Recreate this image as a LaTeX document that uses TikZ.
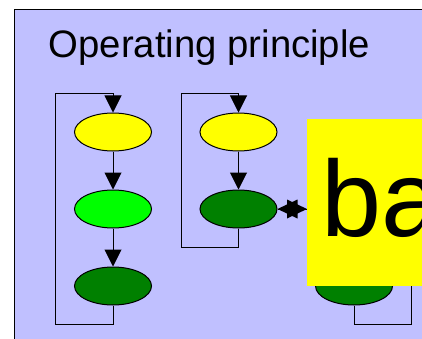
\documentclass[tikz,border=0pt]{standalone}
\usepackage{fontspec}
\setmainfont{Liberation Sans}
\usetikzlibrary{shapes.geometric,arrows.meta}
\definecolor{lav}{HTML}{C0C0FF}
\definecolor{yel}{HTML}{FFFF00}
\definecolor{lime}{HTML}{00FF00}
\definecolor{dkg}{HTML}{008000}
\tikzset{
  oval/.style={ellipse, draw=black, line width=1pt, minimum width=77pt, minimum height=38pt, inner sep=0pt},
  link/.style={draw=black, line width=1pt},
  arr/.style={link, -{Triangle[length=17pt,width=17pt]}},
  headfill/.style={fill=black},
}
\begin{document}
\begin{tikzpicture}[x=1pt,y=-1pt]
\useasboundingbox (0,0) rectangle (422,339);
\clip (0,0) rectangle (422,339);
\fill[white] (0,0) rectangle (422,339);
\draw[fill=lav, line width=1pt] (14,9.5) rectangle (450,370);
\node[anchor=base west, inner sep=0pt, font=\fontsize{38.3}{40}\selectfont] (title) at (48.5,58) {Operating principle};
% column 1
\node[oval, fill=yel] (y1) at (113,132) {};
\node[oval, fill=lime] (g1) at (113,209) {};
\node[oval, fill=dkg] (d1) at (113,286) {};
% column 2
\node[oval, fill=yel] (y2) at (238.5,132) {};
\node[oval, fill=dkg] (d2) at (238.5,209) {};
% column 3 (mostly hidden)
\node[oval, fill=dkg] (d3) at (354,286) {};
\coordinate (c1a) at (113,324); \coordinate (c1b) at (55,324);
\coordinate (c1c) at (55,94);   \coordinate (c1d) at (113,94);
\coordinate (c2a) at (238.5,247); \coordinate (c2b) at (181,247);
\coordinate (c2c) at (181,94);    \coordinate (c2d) at (238.5,94);
\coordinate (c3a) at (354,324); \coordinate (c3b) at (411.7,324);
\coordinate (c3c) at (411.7,250);
\draw[arr] (y1) -- (g1);
\draw[arr] (g1) -- (d1);
\draw[arr] (d1.south) -- (c1a) -- (c1b) -- (c1c) -- (c1d) -- (y1.north);
\draw[arr] (y2) -- (d2);
\draw[arr] (d2.south) -- (c2a) -- (c2b) -- (c2c) -- (c2d) -- (y2.north);
\draw[link] (d3.south) -- (c3a) -- (c3b) -- (c3c);
% yellow box
\node[anchor=north west, fill=yel, minimum width=150pt, minimum height=167pt, inner sep=0pt] (box) at (307,119) {};
\node[anchor=base west, inner sep=0pt, font=\fontsize{108}{110}\selectfont] (ba) at (321.5,236) {ba};
% double-headed connector
\coordinate (bw) at (d2.east -| box.west);
\draw[link] (d2.east) -- (bw);
\fill[headfill] (d2.east) -- ++(20,-9.5) -- ++(0,19) -- cycle;
\fill[headfill] (bw) -- ++(-20,-9.5) -- ++(0,19) -- cycle;
\end{tikzpicture}
\end{document}
